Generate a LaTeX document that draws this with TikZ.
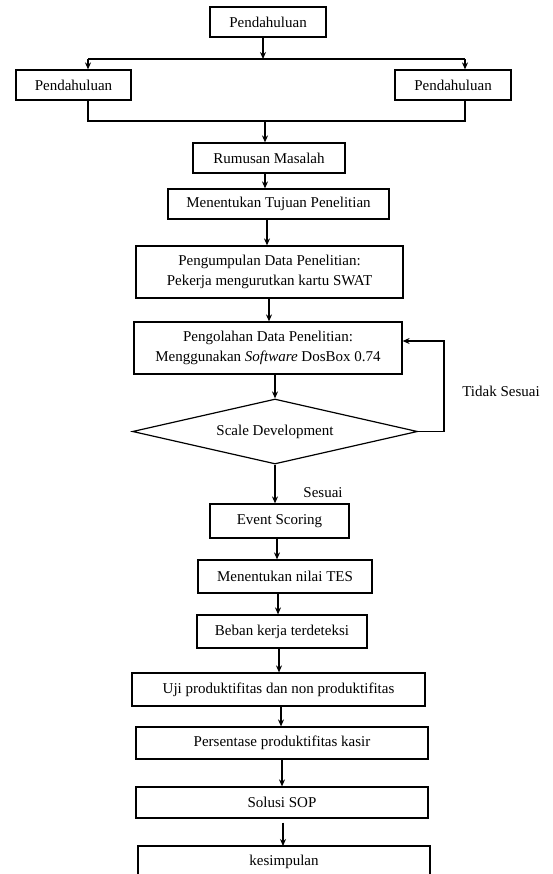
\documentclass[tikz,border=0pt]{standalone}
\usepackage{fontspec}
\setmainfont{Liberation Serif}
\usetikzlibrary{shapes.geometric,arrows.meta}
\begin{document}
\begin{tikzpicture}[x=1pt,y=-1pt,
  every node/.style={font=\fontsize{15}{19.5}\selectfont},
  box/.style={draw,line width=1.2pt,rectangle,inner sep=0pt,align=center},
  conn/.style={line width=1.2pt},
  arr/.style={conn,-{Stealth[length=7pt,width=6pt]}},
  lbl/.style={inner sep=0pt}]
\useasboundingbox (0,0) rectangle (552,874);
\fill[white] (0,0) rectangle (552,874);
\begin{scope}
\clip (0,0) rectangle (552,874);
% boxes
\node[box,minimum width=116pt,minimum height=30pt] (top) at (268,22) {Pendahuluan};
\node[box,minimum width=115pt,minimum height=30pt] (left) at (73.5,85) {Pendahuluan};
\node[box,minimum width=116pt,minimum height=30pt] (right) at (453,85) {Pendahuluan};
\node[box,minimum width=152pt,minimum height=30pt] (rm) at (269,158) {Rumusan Masalah};
\node[box,minimum width=221pt,minimum height=30pt] (tj) at (278.5,204) {Menentukan Tujuan Penelitian};
\node[box,minimum width=267pt,minimum height=52pt] (pd) at (269.5,272) {Pengumpulan Data Penelitian:\\Pekerja mengurutkan kartu SWAT};
\node[box,minimum width=268pt,minimum height=52pt] (po) at (268,348) {Pengolahan Data Penelitian:\\Menggunakan \textit{Software} DosBox 0.74};
\node[draw,line width=1.2pt,diamond,aspect=4.4,minimum width=285pt,minimum height=65pt,inner sep=0pt] (sd) at (275,431.5) {Scale Development};
\node[box,minimum width=139pt,minimum height=34pt] (es) at (279.5,521) {Event Scoring};
\node[box,minimum width=174pt,minimum height=33pt] (tes) at (285,576.5) {Menentukan nilai TES};
\node[box,minimum width=170pt,minimum height=33pt] (bk) at (282,631.5) {Beban kerja terdeteksi};
\node[box,minimum width=293pt,minimum height=33pt] (uji) at (278.5,689.5) {Uji produktifitas dan non produktifitas};
\node[box,minimum width=292pt,minimum height=32pt] (ps) at (282,743) {Persentase produktifitas kasir};
\node[box,minimum width=292pt,minimum height=31pt] (sop) at (282,802.5) {Solusi SOP};
\draw[line width=1.2pt] (138,900) |- (430,846) -- (430,900);
\node[lbl] (ks) at (284,862) {kesimpulan};
\coordinate (kstop) at (283,846);
% labels
\node[lbl] (tidak) at (501,391) {Tidak Sesuai};
\node[lbl] (sesuai) at (323,493) {Sesuai};
% connectors top split
\coordinate (split) at (263,59);
\coordinate (join) at (265,121);
\draw[arr] (top.south -| split) -- (split);
\draw[conn] (88,59) -- (465,59);
\draw[arr] (88,59) -- (left.north -| 88,0);
\draw[arr] (465,59) -- (right.north -| 465,0);
\draw[conn] (left.south -| 88,0) -- (88,121) -- (465,121) -- (right.south -| 465,0);
\draw[arr] (join) -- (join |- rm.north);
\draw[arr] (rm.south -| 265,0) -- (tj.north -| 265,0);
\draw[arr] (tj.south -| 267,0) -- (pd.north -| 267,0);
\draw[arr] (pd.south -| 269,0) -- (po.north -| 269,0);
\draw[arr] (po.south -| sd.north) -- (sd.north);
\draw[arr] (sd.south) -- (es.north -| sd.south);
\draw[arr] (es.south -| 277,0) -- (tes.north -| 277,0);
\draw[arr] (tes.south -| 278,0) -- (bk.north -| 278,0);
\draw[arr] (bk.south -| 279,0) -- (uji.north -| 279,0);
\draw[arr] (uji.south -| 281,0) -- (ps.north -| 281,0);
\draw[arr] (ps.south -| 282,0) -- (sop.north -| 282,0);
\draw[arr] ([yshift=-4pt]sop.south -| 283,0) -- (kstop);
% feedback
\draw[arr] (sd.east) -- (444,431.5) -- (444,341) -- (po.east |- 0,341);
\end{scope}
\end{tikzpicture}
\end{document}
